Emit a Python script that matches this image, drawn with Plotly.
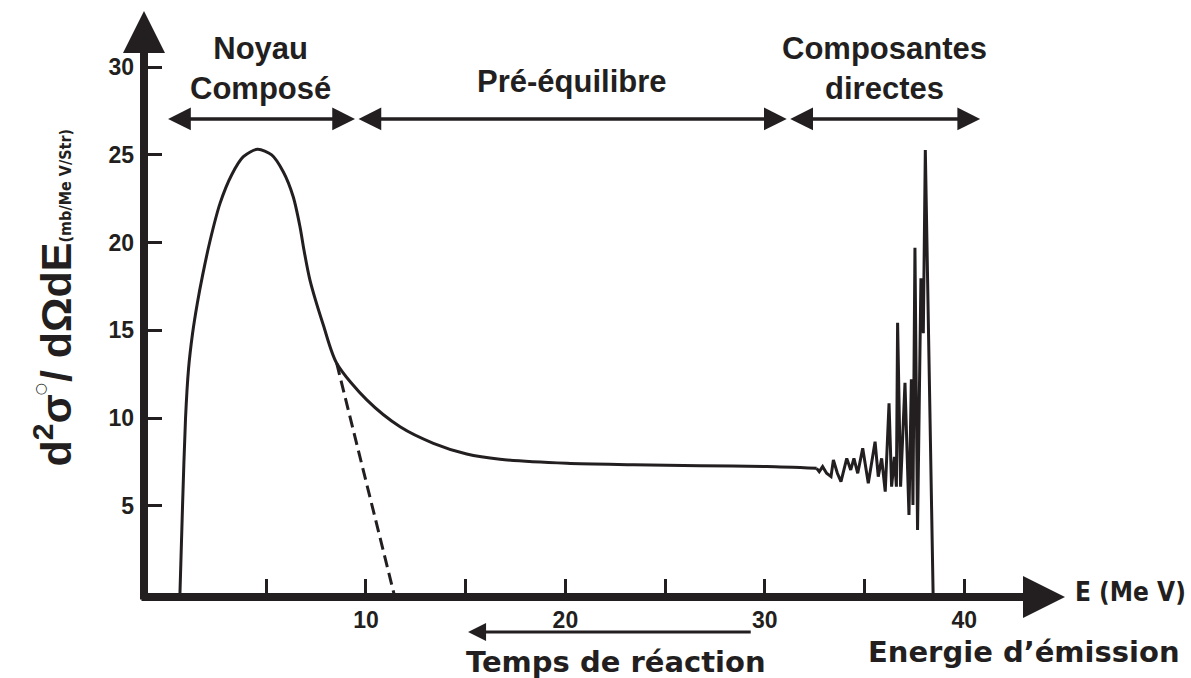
import plotly.graph_objects as go

# ---------------- data ----------------
# smooth part of the spectrum (compound nucleus peak + pre-equilibrium tail)
smooth_E = [0.67, 0.80, 0.95, 1.10, 1.30, 1.55, 1.80, 2.18, 2.68, 3.26, 3.85, 4.56, 5.27,
            5.85, 6.35, 6.69, 6.89, 7.19, 7.86, 8.53, 10.04, 11.71, 13.38, 15.05,
            16.72, 20.07, 23.41, 26.75, 30.10, 32.60]
smooth_sigma = [0.0, 5.0, 10.0, 12.8, 14.8, 16.6, 18.1, 20.1, 22.23, 23.85, 24.89, 25.31,
                24.99, 24.03, 22.61, 20.90, 19.57, 17.86, 15.30, 13.12, 11.03, 9.50,
                8.56, 7.95, 7.65, 7.42, 7.34, 7.28, 7.23, 7.13]

# direct components (oscillating part)
direct_E = [32.60, 32.73, 32.90, 33.10, 33.32, 33.44, 33.64, 33.82, 34.11, 34.31, 34.47,
            34.66, 34.91, 35.19, 35.53, 35.69, 35.86, 36.04, 36.23, 36.36, 36.50, 36.60,
            36.66, 36.81, 37.03, 37.23, 37.35, 37.43, 37.53, 37.66, 37.83, 37.95, 38.05,
            38.44]
direct_sigma = [7.13, 6.94, 7.23, 6.85, 6.66, 7.61, 6.85, 6.37, 7.70, 7.04, 7.70, 6.85,
                8.27, 6.28, 8.65, 6.66, 7.70, 5.80, 10.84, 6.09, 7.79, 6.09, 15.43, 6.09,
                12.01, 4.47, 12.21, 5.04, 19.70, 3.62, 17.96, 14.83, 25.27, 0.0]

# evaporation (compound nucleus) extrapolation, dashed
evap_E = [8.53, 11.40]
evap_sigma = [13.12, 0.0]

# axes ticks
x_tickvals = [10, 20, 30, 40]
x_ticktext = ["10", "20", "30", "40"]
x_minor_tickvals = [5, 15, 25, 35]
y_tickvals = [5, 10, 15, 20, 25, 30]
y_ticktext = ["5", "10", "15", "20", "25", "30"]

# regions (label, start, end)
region_labels = ["Noyau<br>Composé", "Pré-équilibre", "Composantes<br>directes"]
region_start = [0.0, 9.55, 31.2]
region_end = [9.45, 31.1, 40.8]
region_arrow_y = 27.04
region_label_y = [29.9, 29.15, 29.9]

# reaction-time arrow (from -> to, in energy)
time_arrow_from = 29.37
time_arrow_to = 15.12

INK = "#231f20"
BOLD = "Liberation Sans, Arial, sans-serif"
NARROW = "Liberation Sans Narrow, DejaVu Sans Condensed, sans-serif"
WIDE = "DejaVu Sans, sans-serif"

fig = go.Figure()
fig.add_trace(go.Scatter(x=smooth_E, y=smooth_sigma, mode="lines",
                         line=dict(color=INK, width=3, shape="spline", smoothing=0.8),
                         showlegend=False, hoverinfo="skip"))
fig.add_trace(go.Scatter(x=direct_E, y=direct_sigma, mode="lines",
                         line=dict(color=INK, width=3),
                         showlegend=False, hoverinfo="skip"))
fig.add_trace(go.Scatter(x=evap_E, y=evap_sigma, mode="lines",
                         line=dict(color=INK, width=3, dash="12px,6px"),
                         showlegend=False, hoverinfo="skip"))

fig.update_layout(
    width=1191, height=678,
    margin=dict(l=144, r=126, t=10, b=81),
    paper_bgcolor="white", plot_bgcolor="white",
    xaxis=dict(range=[-1.133, 45.055], showgrid=False, zeroline=False, showline=False,
               tickmode="array", tickvals=x_tickvals, ticktext=x_ticktext,
               ticks="inside", ticklen=18, tickwidth=3, tickcolor=INK,
               minor=dict(tickmode="array", tickvals=x_minor_tickvals, ticks="inside",
                          ticklen=18, tickwidth=3, tickcolor=INK, showgrid=False),
               ticklabelstandoff=7,
               tickfont=dict(family=BOLD, size=23, color=INK, weight="bold")),
    yaxis=dict(range=[-0.2, 33.25], showgrid=False, zeroline=False, showline=False,
               tickmode="array", tickvals=y_tickvals, ticktext=y_ticktext,
               ticks="inside", ticklen=18, tickwidth=3, tickcolor=INK,
               ticklabelstandoff=9,
               tickfont=dict(family=BOLD, size=23, color=INK, weight="bold")),
)

# axis lines with arrowheads
fig.add_annotation(x=0, y=0.9983, xref="paper", yref="paper", ax=0, ay=590,
                   axref="pixel", ayref="pixel", text="", showarrow=True,
                   arrowhead=2, arrowwidth=8, arrowsize=1.05, arrowcolor=INK, standoff=0)
fig.add_annotation(x=1, y=0, xref="paper", yref="paper", ax=-925, ay=0,
                   axref="pixel", ayref="pixel", text="", showarrow=True,
                   arrowhead=2, arrowwidth=8, arrowsize=1.05, arrowcolor=INK, standoff=0)

# region arrows and labels
for lab, s, e, ly in zip(region_labels, region_start, region_end, region_label_y):
    fig.add_annotation(x=e, y=region_arrow_y, ax=s, ay=region_arrow_y,
                       xref="x", yref="y", axref="x", ayref="y", text="",
                       showarrow=True, arrowhead=2, arrowside="end+start",
                       arrowwidth=3.5, arrowsize=1.3, arrowcolor=INK,
                       standoff=0, startstandoff=0)
    fig.add_annotation(x=(s + e) / 2, y=ly, xref="x", yref="y", text=lab,
                       showarrow=False,
                       font=dict(family=BOLD, size=31, color=INK, weight="bold"),
                       xanchor="center", yanchor="middle")

# reaction time arrow
fig.add_annotation(x=time_arrow_to, y=-0.0596, xref="x", yref="paper",
                   ax=time_arrow_from, ay=0, axref="x", ayref="pixel", text="",
                   showarrow=True, arrowhead=2, arrowwidth=3, arrowsize=1.2,
                   arrowcolor=INK, standoff=0)
fig.add_annotation(x=0.5125, y=-0.111, xref="paper", yref="paper",
                   text="Temps de réaction", showarrow=False,
                   font=dict(family=WIDE, size=29, color=INK, weight="bold"),
                   xanchor="center", yanchor="middle")
fig.add_annotation(x=0.9555, y=-0.0937, xref="paper", yref="paper",
                   text="Energie d’émission", showarrow=False,
                   font=dict(family=WIDE, size=29, color=INK, weight="bold"),
                   xanchor="center", yanchor="middle")
fig.add_annotation(x=1.071, y=0.0085, xref="paper", yref="paper",
                   text="E (Me V)", showarrow=False,
                   font=dict(family=NARROW, size=26, color=INK, weight="bold"),
                   xanchor="center", yanchor="middle")

# y-axis title
fig.add_annotation(x=-0.099, y=0.510, xref="paper", yref="paper",
                   text=("d<sup>2</sup>σ\u00a0/\u00a0dΩdE"
                         "<span style=\"font-family:'DejaVu Sans Condensed','Liberation Sans Narrow',sans-serif;font-size:16px\">"
                         "(mb/Me V/Str)</span>"),
                   textangle=-90, showarrow=False,
                   font=dict(family=BOLD, size=43, color=INK, weight="bold"),
                   xanchor="center", yanchor="middle")
fig.add_annotation(x=-0.1129, y=0.354, xref="paper", yref="paper", text="○",
                   textangle=-90, showarrow=False,
                   font=dict(family=WIDE, size=14, color=INK),
                   xanchor="center", yanchor="middle")

fig.write_html("out.html")
